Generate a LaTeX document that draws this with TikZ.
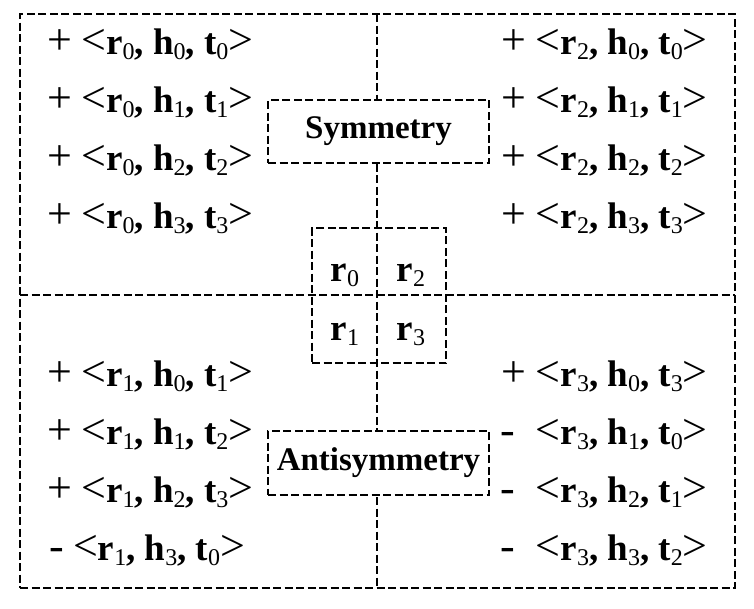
\documentclass[tikz,border=0pt]{standalone}
\usepackage{fontspec}
\setmainfont{Liberation Serif}
\newcommand\subd[1]{\raisebox{-5pt}{\fontsize{24}{24}\selectfont\mdseries #1}}
\newcommand\bigs[1]{{\fontsize{44}{44}\selectfont #1}}
\newcommand\trip[4]{\bigs{#1}\ \bigs{<}\textbf{r}\subd{#2}\textbf{,} \textbf{h}\subd{#3}\textbf{,} \textbf{t}\subd{#4}\bigs{>}}
\begin{document}
\begin{tikzpicture}[x=1pt,y=-1pt,
  dsh/.style={line width=2.5pt, dash pattern=on 8pt off 3.5pt},
  lab/.style={draw, dsh, fill=white, inner sep=0pt},
  trp/.style={font=\fontsize{37}{40}\selectfont, inner sep=0pt}]
\useasboundingbox (0,0) rectangle (754,608);
\fill[white] (0,0) rectangle (754,608);
% outer frame and dividing cross
\node[draw, dsh, minimum width=715pt, minimum height=574pt, inner sep=0pt] (frame) at (377.5,301) {};
\coordinate (mt) at (377,14); \coordinate (mb) at (377,588);
\coordinate (ml) at (20,295); \coordinate (mr) at (735,295);
\draw[dsh] (mt) -- (mb);
\draw[dsh] (ml) -- (mr);
% relation box
\node[draw, dsh, minimum width=134pt, minimum height=135pt, inner sep=0pt] (rbox) at (379,295.5) {};
\node[font=\fontsize{37}{40}\selectfont, inner sep=0pt] (r0) at (345,275) {\textbf{r}\subd{0}};
\node[font=\fontsize{37}{40}\selectfont, inner sep=0pt] (r2) at (411,275) {\textbf{r}\subd{2}};
\node[font=\fontsize{37}{40}\selectfont, inner sep=0pt] (r1) at (345,334) {\textbf{r}\subd{1}};
\node[font=\fontsize{37}{40}\selectfont, inner sep=0pt] (r3) at (411,334) {\textbf{r}\subd{3}};
% labels
\node[lab, minimum width=221pt, minimum height=63pt, font=\fontsize{33}{36}\selectfont\bfseries] (sym) at (378.5,131.5) {Symmetry};
\node[lab, minimum width=221pt, minimum height=64pt, font=\fontsize{33}{36}\selectfont\bfseries] (anti) at (378.5,463) {Antisymmetry};
% top-left
\node[trp, anchor=base west] (a0) at (47,54) {\trip{+}{0}{0}{0}};
\node[trp, anchor=base west] (a1) at (47,112) {\trip{+}{0}{1}{1}};
\node[trp, anchor=base west] (a2) at (47,170) {\trip{+}{0}{2}{2}};
\node[trp, anchor=base west] (a3) at (47,228) {\trip{+}{0}{3}{3}};
% top-right
\node[trp, anchor=base east] (b0) at (708,54) {\trip{+}{2}{0}{0}};
\node[trp, anchor=base east] (b1) at (708,112) {\trip{+}{2}{1}{1}};
\node[trp, anchor=base east] (b2) at (708,170) {\trip{+}{2}{2}{2}};
\node[trp, anchor=base east] (b3) at (708,228) {\trip{+}{2}{3}{3}};
% bottom-left
\node[trp, anchor=base west] (c0) at (47,386) {\trip{+}{1}{0}{1}};
\node[trp, anchor=base west] (c1) at (47,444) {\trip{+}{1}{1}{2}};
\node[trp, anchor=base west] (c2) at (47,502) {\trip{+}{1}{2}{3}};
\node[trp, anchor=base west] (c3) at (49,560) {\trip{-}{1}{3}{0}};
% bottom-right
\node[trp, anchor=base east] (d0) at (708,386) {\trip{+}{3}{0}{3}};
\node[trp, anchor=base east] (d1) at (708,444) {\trip{-\ }{3}{1}{0}};
\node[trp, anchor=base east] (d2) at (708,502) {\trip{-\ }{3}{2}{1}};
\node[trp, anchor=base east] (d3) at (708,560) {\trip{-\ }{3}{3}{2}};
\end{tikzpicture}
\end{document}
